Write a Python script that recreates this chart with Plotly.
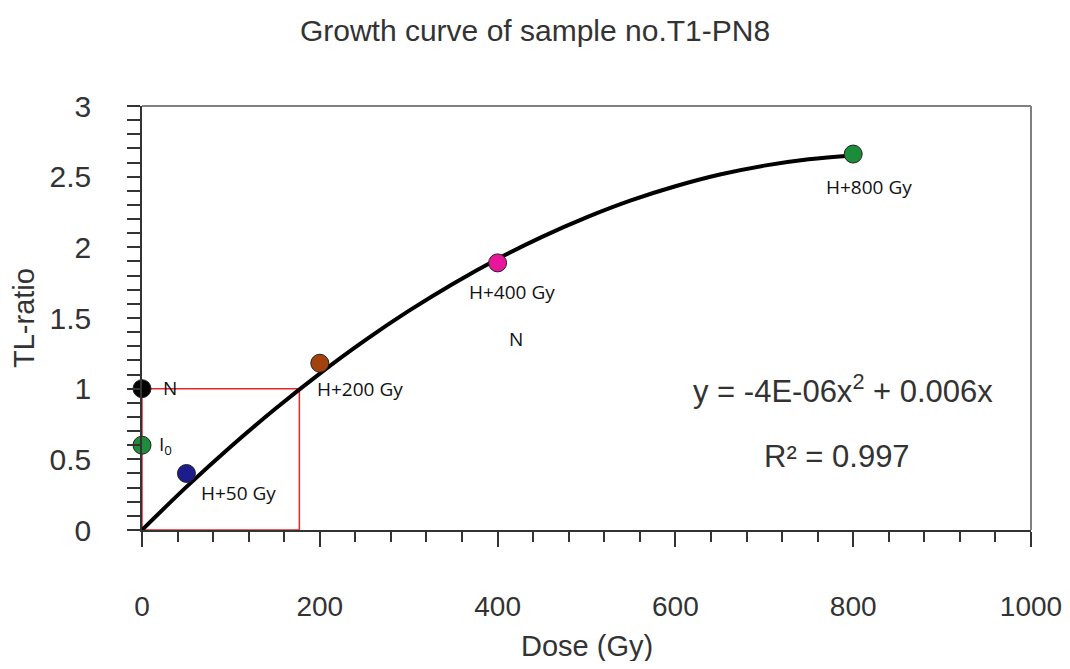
import plotly.graph_objects as go

# ---- data ----
point_names = ["N", "I0", "H+50 Gy", "H+200 Gy", "H+400 Gy", "H+800 Gy"]
point_dose = [0, 0, 50, 200, 400, 800]
point_ratio = [1.0, 0.6, 0.40, 1.18, 1.89, 2.66]
point_colors = ["#000000", "#1e8c3a", "#1c1c8c", "#a3420f", "#e8169a", "#1a8c3a"]

curve_dose = [0, 50, 100, 150, 200, 250, 300, 350, 400, 450, 500, 550, 600, 650, 700, 750, 800]
curve_ratio = [0.0, 0.305, 0.591, 0.858, 1.107, 1.338, 1.550, 1.743, 1.918, 2.074, 2.212,
               2.332, 2.432, 2.515, 2.578, 2.623, 2.650]

box_dose = [0, 177]
box_ratio = [0, 1.0]

label_texts = ["N", "I<sub>0</sub>", "H+50 Gy", "H+200 Gy", "H+400 Gy", "N", "H+800 Gy"]
label_x = [21, 17, 108, 245, 416, 421, 818]
label_y = [1.005, 0.60, 0.262, 0.998, 1.684, 1.351, 2.427]
label_anchor = ["left", "left", "center", "center", "center", "center", "center"]

x_ticks = [0, 200, 400, 600, 800, 1000]
y_ticks = [0, 0.5, 1, 1.5, 2, 2.5, 3]
y_tick_text = ["0", "0.5", "1", "1.5", "2", "2.5", "3"]

title_text = "Growth curve of sample no.T1-PN8"
eq_text = "y = -4E-06x<sup>2</sup> + 0.006x"
r2_text = "R² = 0.997"

# page has an 8px body margin; figure sized so the whole page is 1070x669
W, H = 1054, 653

fig = go.Figure()

fig.add_trace(go.Scatter(
    x=curve_dose, y=curve_ratio, mode="lines",
    line=dict(color="black", width=4, shape="spline"),
    hoverinfo="skip", showlegend=False))

fig.add_trace(go.Scatter(
    x=point_dose, y=point_ratio, mode="markers",
    marker=dict(size=18, color=point_colors, line=dict(color="#222222", width=1)),
    text=point_names, showlegend=False, cliponaxis=False))

# red box
fig.add_shape(type="rect", xref="x", yref="y",
              x0=box_dose[0], x1=box_dose[1], y0=box_ratio[0], y1=box_ratio[1],
              line=dict(color="#e8262a", width=1.5), layer="below")

# top / right frame lines
fig.add_shape(type="line", xref="paper", yref="paper", x0=0, x1=1, y0=1, y1=1,
              line=dict(color="#808080", width=2))
fig.add_shape(type="line", xref="paper", yref="paper", x0=1, x1=1, y0=0, y1=1,
              line=dict(color="#808080", width=2))

for t, x, y, a in zip(label_texts, label_x, label_y, label_anchor):
    fig.add_annotation(x=x, y=y, xref="x", yref="y", text=t, showarrow=False,
                       xanchor=a, yanchor="middle",
                       font=dict(family="Open Sans", size=19, color="#111111"))

fig.add_annotation(x=789, y=1.0, xref="x", yref="y", text=eq_text, showarrow=False,
                   xanchor="center", yanchor="middle",
                   font=dict(family="Liberation Sans", size=31, color="#333333"))
fig.add_annotation(x=782, y=0.52, xref="x", yref="y", text=r2_text, showarrow=False,
                   xanchor="center", yanchor="middle",
                   font=dict(family="Liberation Sans", size=31, color="#333333"))

# axis titles
fig.add_annotation(x=0.5, y=0, xref="paper", yref="paper", text="Dose (Gy)",
                   showarrow=False, xanchor="center", yanchor="middle", yshift=-116,
                   font=dict(family="Liberation Sans", size=29, color="#333333"))
fig.add_annotation(x=0, y=0.5, xref="paper", yref="paper", text="TL-ratio",
                   showarrow=False, xanchor="center", yanchor="middle", xshift=-118,
                   textangle=-90,
                   font=dict(family="Liberation Sans", size=29, color="#333333"))

fig.update_layout(
    width=W, height=H,
    margin=dict(l=134, r=31, t=98, b=131, autoexpand=False),
    paper_bgcolor="white", plot_bgcolor="white",
    title=dict(text=title_text, x=0.5, xref="container", xanchor="center",
               y=1 - 22 / H, yref="container", yanchor="middle",
               font=dict(family="Liberation Sans", size=30, color="#333333")),
    xaxis=dict(range=[0, 1000], tickvals=x_ticks, ticks="outside", ticklen=15,
               tickwidth=1.5, tickcolor="#333333", showgrid=False, zeroline=False,
               showline=True, linecolor="#333333", linewidth=1.5, automargin=False,
               ticklabelstandoff=36, ticklabeloverflow="allow",
               tickfont=dict(family="Liberation Sans", size=28, color="#333333"),
               minor=dict(dtick=40, ticks="outside", ticklen=10, tickwidth=1.5,
                          tickcolor="#333333", showgrid=False)),
    yaxis=dict(range=[0, 3], tickvals=y_ticks, ticktext=y_tick_text, ticks="outside",
               ticklen=13, tickwidth=1.5, tickcolor="#333333", showgrid=False,
               zeroline=False, showline=True, linecolor="#333333", linewidth=1.5,
               automargin=False, ticklabelstandoff=30,
               tickfont=dict(family="Liberation Sans", size=30, color="#333333"),
               minor=dict(dtick=0.1, ticks="outside", ticklen=13, tickwidth=1.5,
                          tickcolor="#333333", showgrid=False)),
)

fig.write_html("out.html")
